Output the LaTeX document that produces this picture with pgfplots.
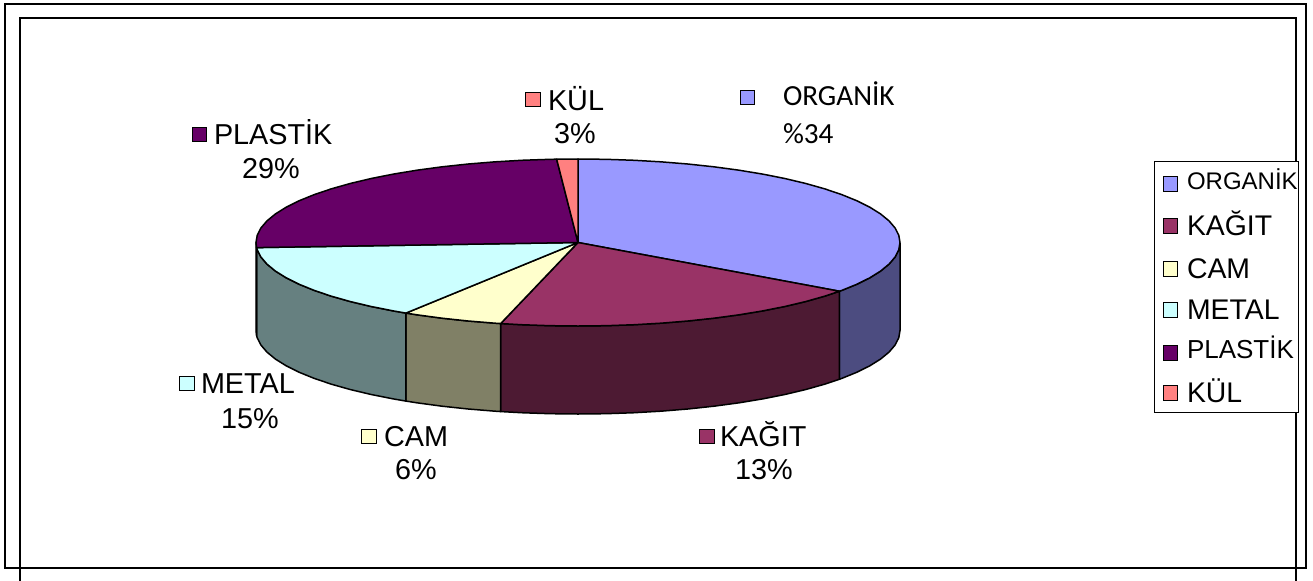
\documentclass[border=0pt]{standalone}
\usepackage{pgfplots}
\usepackage{pgfplotstable}
\pgfplotsset{compat=1.18}
\usepackage{fontspec}
\setmainfont{Liberation Sans}
\newfontfamily\calibri{Carlito}

\definecolor{org}{HTML}{9999FF}\definecolor{orgS}{HTML}{4C4C80}
\definecolor{kag}{HTML}{993366}\definecolor{kagS}{HTML}{4D1A33}
\definecolor{cam}{HTML}{FFFFCC}\definecolor{camS}{HTML}{808066}
\definecolor{met}{HTML}{CCFFFF}\definecolor{metS}{HTML}{668080}
\definecolor{pla}{HTML}{660066}\definecolor{plaS}{HTML}{330033}
\definecolor{kul}{HTML}{FF8080}

% slice outlines: angle t (deg), radius r (0 = centre, 1 = rim), d (0 = top face, 1 = bottom edge)
\pgfplotstableread[row sep=\\]{t r d\\ 0 0 0\\ 90 1 0\\ 85 1 0\\ 80 1 0\\ 75 1 0\\ 70 1 0\\ 65 1 0\\ 60 1 0\\ 55 1 0\\ 50 1 0\\ 45 1 0\\ 40 1 0\\ 35 1 0\\ 30 1 0\\ 25 1 0\\ 20 1 0\\ 15 1 0\\ 10 1 0\\ 5 1 0\\ 0 1 0\\ -5 1 0\\ -10 1 0\\ -15 1 0\\ -20 1 0\\ -25 1 0\\ -30 1 0\\ -35 1 0\\ -35.7 1 0\\ 0 0 0\\}\OrgTop
\pgfplotstableread[row sep=\\]{t r d\\ 0 0 0\\ -35.7 1 0\\ -40 1 0\\ -45 1 0\\ -50 1 0\\ -55 1 0\\ -60 1 0\\ -65 1 0\\ -70 1 0\\ -75 1 0\\ -80 1 0\\ -85 1 0\\ -90 1 0\\ -95 1 0\\ -100 1 0\\ -103.9 1 0\\ 0 0 0\\}\KagTop
\pgfplotstableread[row sep=\\]{t r d\\ 0 0 0\\ -103.9 1 0\\ -105 1 0\\ -110 1 0\\ -115 1 0\\ -120 1 0\\ -122.3 1 0\\ 0 0 0\\}\CamTop
\pgfplotstableread[row sep=\\]{t r d\\ 0 0 0\\ -122.3 1 0\\ -125 1 0\\ -130 1 0\\ -135 1 0\\ -140 1 0\\ -145 1 0\\ -150 1 0\\ -155 1 0\\ -160 1 0\\ -165 1 0\\ -170 1 0\\ -175 1 0\\ -176.5 1 0\\ 0 0 0\\}\MetTop
\pgfplotstableread[row sep=\\]{t r d\\ 0 0 0\\ -176.5 1 0\\ -180 1 0\\ -185 1 0\\ -190 1 0\\ -195 1 0\\ -200 1 0\\ -205 1 0\\ -210 1 0\\ -215 1 0\\ -220 1 0\\ -225 1 0\\ -230 1 0\\ -235 1 0\\ -240 1 0\\ -245 1 0\\ -250 1 0\\ -255 1 0\\ -260 1 0\\ -265 1 0\\ -266.2 1 0\\ 0 0 0\\}\PlaTop
\pgfplotstableread[row sep=\\]{t r d\\ 0 0 0\\ -266.2 1 0\\ -270 1 0\\ 0 0 0\\}\KulTop
\pgfplotstableread[row sep=\\]{t r d\\ 0 1 0\\ -5 1 0\\ -10 1 0\\ -15 1 0\\ -20 1 0\\ -25 1 0\\ -30 1 0\\ -35 1 0\\ -35.7 1 0\\ -35.7 1 1\\ -35 1 1\\ -30 1 1\\ -25 1 1\\ -20 1 1\\ -15 1 1\\ -10 1 1\\ -5 1 1\\ 0 1 1\\ 0 1 0\\}\OrgSide
\pgfplotstableread[row sep=\\]{t r d\\ -35.7 1 0\\ -40 1 0\\ -45 1 0\\ -50 1 0\\ -55 1 0\\ -60 1 0\\ -65 1 0\\ -70 1 0\\ -75 1 0\\ -80 1 0\\ -85 1 0\\ -90 1 0\\ -95 1 0\\ -100 1 0\\ -103.9 1 0\\ -103.9 1 1\\ -100 1 1\\ -95 1 1\\ -90 1 1\\ -85 1 1\\ -80 1 1\\ -75 1 1\\ -70 1 1\\ -65 1 1\\ -60 1 1\\ -55 1 1\\ -50 1 1\\ -45 1 1\\ -40 1 1\\ -35.7 1 1\\ -35.7 1 0\\}\KagSide
\pgfplotstableread[row sep=\\]{t r d\\ -103.9 1 0\\ -105 1 0\\ -110 1 0\\ -115 1 0\\ -120 1 0\\ -122.3 1 0\\ -122.3 1 1\\ -120 1 1\\ -115 1 1\\ -110 1 1\\ -105 1 1\\ -103.9 1 1\\ -103.9 1 0\\}\CamSide
\pgfplotstableread[row sep=\\]{t r d\\ -122.3 1 0\\ -125 1 0\\ -130 1 0\\ -135 1 0\\ -140 1 0\\ -145 1 0\\ -150 1 0\\ -155 1 0\\ -160 1 0\\ -165 1 0\\ -170 1 0\\ -175 1 0\\ -176.5 1 0\\ -176.5 1 1\\ -175 1 1\\ -170 1 1\\ -165 1 1\\ -160 1 1\\ -155 1 1\\ -150 1 1\\ -145 1 1\\ -140 1 1\\ -135 1 1\\ -130 1 1\\ -125 1 1\\ -122.3 1 1\\ -122.3 1 0\\}\MetSide
\pgfplotstableread[row sep=\\]{t r d\\ -176.5 1 0\\ -180 1 0\\ -180 1 1\\ -176.5 1 1\\ -176.5 1 0\\}\PlaSide

\newcommand\rimx{578+322*\thisrow{r}*cos(\thisrow{t})}
\newcommand\rimy{242.5-83.5*\thisrow{r}*sin(\thisrow{t})+88*\thisrow{d}}

\newcommand\lbl{\fontsize{14.4}{17}\selectfont}
\newcommand\leg{\fontsize{14.2}{17}\selectfont}

\begin{document}
\begin{tikzpicture}[every node/.append style={inner sep=0pt, outer sep=0pt}]
\begin{axis}[
  at={(0,0)}, anchor=south west,
  scale only axis, width=656.5pt, height=290pt,
  xmin=0, xmax=1313, ymin=0, ymax=580, y dir=reverse,
  hide axis, clip=true,
  pie/.style={draw=black, line width=0.75pt, line join=round, mark=none},
  sq/.style={only marks, mark=square*, mark size=3.6pt, mark options={draw=black, line width=0.5pt}},
]
% frames
\draw[line width=1pt, black] (axis cs:5,4.3) rectangle (axis cs:1305.7,568);
\draw[line width=1pt, black] (axis cs:19.7,18.3) rectangle (axis cs:1295.7,620);

% side faces
\addplot[pie, fill=orgS] table[x expr=\rimx, y expr=\rimy] {\OrgSide};
\addplot[pie, fill=kagS] table[x expr=\rimx, y expr=\rimy] {\KagSide};
\addplot[pie, fill=camS] table[x expr=\rimx, y expr=\rimy] {\CamSide};
\addplot[pie, fill=metS] table[x expr=\rimx, y expr=\rimy] {\MetSide};
\addplot[pie, fill=plaS] table[x expr=\rimx, y expr=\rimy] {\PlaSide};
% top faces
\addplot[pie, fill=org] table[x expr=\rimx, y expr=\rimy] {\OrgTop};
\addplot[pie, fill=kag] table[x expr=\rimx, y expr=\rimy] {\KagTop};
\addplot[pie, fill=cam] table[x expr=\rimx, y expr=\rimy] {\CamTop};
\addplot[pie, fill=met] table[x expr=\rimx, y expr=\rimy] {\MetTop};
\addplot[pie, fill=pla] table[x expr=\rimx, y expr=\rimy] {\PlaTop};
\addplot[pie, fill=kul] table[x expr=\rimx, y expr=\rimy] {\KulTop};

% legend box
\draw[line width=0.5pt, black, fill=white] (axis cs:1154,161) rectangle (axis cs:1298,412);

% colour keys (data labels and legend)
\addplot[sq, mark options={fill=org}] coordinates {(747.5,97.5) (1170.5,183.7)};
\addplot[sq, mark options={fill=kag}] coordinates {(707,436.5) (1170.5,226)};
\addplot[sq, mark options={fill=cam}] coordinates {(369,436.5) (1170.5,268.7)};
\addplot[sq, mark options={fill=met}] coordinates {(187,383.5) (1170.5,309.7)};
\addplot[sq, mark options={fill=pla}] coordinates {(199.5,134.5) (1170.5,352.7)};
\addplot[sq, mark options={fill=kul}] coordinates {(533,99.5) (1170.5,393)};

% data labels
\node[inner sep=0pt, anchor=base west, font=\lbl] at (axis cs:214,144.3) {PLASTİK};
\node[inner sep=0pt, anchor=base, font=\lbl] at (axis cs:271,178.3) {29\%};
\node[inner sep=0pt, anchor=base west, font=\lbl] at (axis cs:548,110) {KÜL};
\node[inner sep=0pt, anchor=base, font=\lbl] at (axis cs:575,143) {3\%};
\node[inner sep=0pt, anchor=base west, font=\calibri\fontsize{14.6}{17}\selectfont] at (axis cs:783,105) {ORGANİK};
\node[inner sep=0pt, anchor=base west, font=\calibri\fontsize{14.6}{17}\selectfont] at (axis cs:783,143) {\%34};
\node[inner sep=0pt, anchor=base west, font=\lbl] at (axis cs:201,393) {METAL};
\node[inner sep=0pt, anchor=base, font=\lbl] at (axis cs:250,428) {15\%};
\node[inner sep=0pt, anchor=base west, font=\lbl] at (axis cs:384,446) {CAM};
\node[inner sep=0pt, anchor=base, font=\lbl] at (axis cs:416,479) {6\%};
\node[inner sep=0pt, anchor=base west, font=\lbl] at (axis cs:720,446) {KAĞIT};
\node[inner sep=0pt, anchor=base, font=\lbl] at (axis cs:764,479) {13\%};

% legend entries
\node[inner sep=0pt, anchor=base west, font=\fontsize{12}{14}\selectfont] at (axis cs:1187,189.5) {ORGANİK};
\node[inner sep=0pt, anchor=base west, font=\leg] at (axis cs:1187,235.5) {KAĞIT};
\node[inner sep=0pt, anchor=base west, font=\leg] at (axis cs:1187,278.5) {CAM};
\node[inner sep=0pt, anchor=base west, font=\leg] at (axis cs:1187,319.5) {METAL};
\node[inner sep=0pt, anchor=base west, font=\fontsize{13}{15}\selectfont] at (axis cs:1187,358.3) {PLASTİK};
\node[inner sep=0pt, anchor=base west, font=\leg] at (axis cs:1187,402.3) {KÜL};
\end{axis}
\pgfresetboundingbox
\useasboundingbox (0,0) rectangle (656.5pt,290pt);
\end{tikzpicture}
\end{document}
